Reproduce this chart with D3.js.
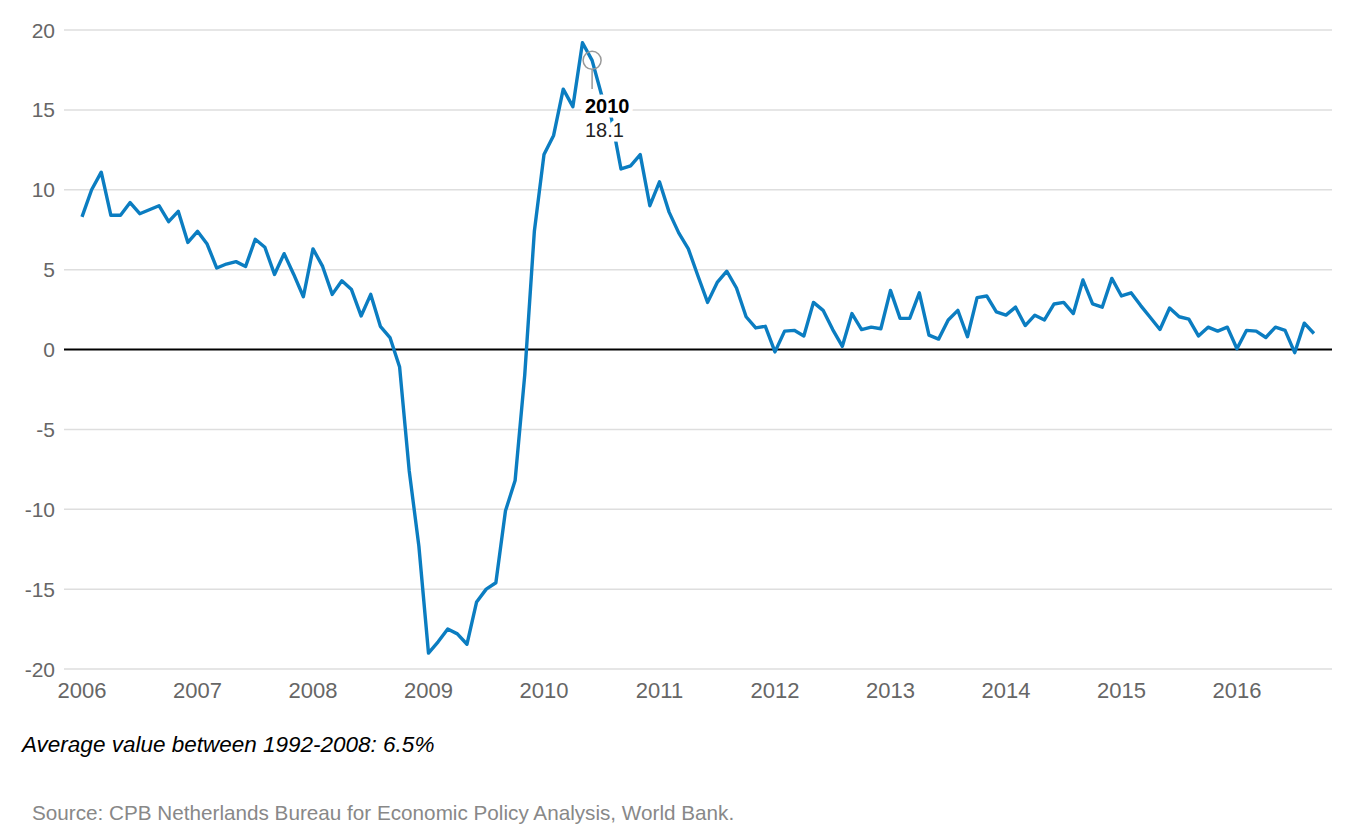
<!DOCTYPE html>
<html>
<head>
<meta charset="utf-8">
<script src="https://cdn.jsdelivr.net/npm/d3@7"></script>
<style>
  html, body { margin: 0; padding: 0; background: #fff; }
  svg { display: block; font-family: "Liberation Sans", Arial, sans-serif; }
</style>
</head>
<body>
<svg id="chart" width="1366" height="834"></svg>
<script>
// ---- data ----
const startYear = 2006;           // first observation: January 2006, monthly
const yearTicks = [2006, 2007, 2008, 2009, 2010, 2011, 2012, 2013, 2014, 2015, 2016];
const valueTicks = [20, 15, 10, 5, 0, -5, -10, -15, -20];
const values = [
  8.3, 10.0, 11.1, 8.4, 8.4, 9.2, 8.5, 8.75, 9.0, 8.0, 8.65, 6.7,        // 2006
  7.4, 6.6, 5.1, 5.35, 5.5, 5.2, 6.9, 6.4, 4.7, 6.0, 4.7, 3.3,           // 2007
  6.3, 5.2, 3.45, 4.3, 3.75, 2.1, 3.45, 1.45, 0.75, -1.1, -7.6, -12.3,    // 2008
  -19.0, -18.3, -17.5, -17.8, -18.45, -15.8, -15.0, -14.6, -10.1, -8.2, -1.6, 7.4, // 2009
  12.2, 13.4, 16.3, 15.2, 19.2, 18.1, 15.9, 14.5, 11.3, 11.5, 12.2, 9.0,  // 2010
  10.5, 8.6, 7.3, 6.3, 4.6, 2.95, 4.2, 4.9, 3.85, 2.05, 1.35, 1.45,      // 2011
  -0.15, 1.15, 1.2, 0.85, 2.95, 2.45, 1.25, 0.2, 2.25, 1.25, 1.4, 1.3,   // 2012
  3.7, 1.95, 1.95, 3.55, 0.9, 0.65, 1.85, 2.45, 0.8, 3.25, 3.35, 2.35,   // 2013
  2.15, 2.65, 1.5, 2.15, 1.85, 2.85, 2.95, 2.25, 4.35, 2.85, 2.65, 4.45, // 2014
  3.35, 3.55, 2.75, 2.0, 1.25, 2.6, 2.05, 1.9, 0.85, 1.4, 1.15, 1.4,     // 2015
  0.05, 1.2, 1.15, 0.75, 1.4, 1.2, -0.2, 1.65, 1.0                       // 2016
];
const highlightIndex = 53;        // June 2010
const highlightLabel = "2010";
const caption = "Average value between 1992-2008: 6.5%";
const source = "Source: CPB Netherlands Bureau for Economic Policy Analysis, World Bank.";

// ---- chart ----
const svg = d3.select("#chart");
const series = values.map((v, i) => ({ t: startYear + i / 12, v }));

const x = d3.scaleLinear().domain([2006, 2016.823]).range([82, 1332]);
const y = d3.scaleLinear().domain([-20, 20]).range([669, 30]);
const gridLeft = 64;

// gridlines + y labels
const yAxis = svg.append("g");
yAxis.selectAll("line").data(valueTicks).join("line")
  .attr("x1", gridLeft).attr("x2", x.range()[1])
  .attr("y1", d => y(d)).attr("y2", d => y(d))
  .attr("stroke", d => d === 0 ? "#000" : "#dedede")
  .attr("stroke-width", d => d === 0 ? 2 : 1.5);
yAxis.selectAll("text").data(valueTicks).join("text")
  .attr("x", 55).attr("y", d => y(d)).attr("dy", "0.36em")
  .attr("text-anchor", "end")
  .attr("font-size", 21).attr("fill", "#666")
  .text(d => d);

// x labels
svg.append("g").selectAll("text").data(yearTicks).join("text")
  .attr("x", d => x(d)).attr("y", 698)
  .attr("text-anchor", "middle")
  .attr("font-size", 22).attr("fill", "#666")
  .text(d => d);

// line
svg.append("path").datum(series)
  .attr("fill", "none").attr("stroke", "#0b7dc1").attr("stroke-width", 3.4)
  .attr("stroke-linejoin", "round")
  .attr("d", d3.line().x(d => x(d.t)).y(d => y(d.v)));

// highlight tooltip
const hp = series[highlightIndex];
const hx = x(hp.t), hy = y(hp.v);
svg.append("line").attr("x1", hx).attr("x2", hx).attr("y1", hy + 9).attr("y2", 89)
  .attr("stroke", "#999").attr("stroke-width", 1.5);
svg.append("circle").attr("cx", hx).attr("cy", hy).attr("r", 9)
  .attr("fill", "none").attr("stroke", "#999").attr("stroke-width", 1.5);
const tip = svg.append("g").attr("font-size", 20)
  .attr("stroke", "#fff").attr("stroke-width", 9).attr("paint-order", "stroke")
  .attr("stroke-linejoin", "round");
tip.append("text").attr("x", 585).attr("y", 113).attr("font-weight", "bold")
  .attr("fill", "#000").text(highlightLabel);
tip.append("text").attr("x", 585).attr("y", 137).attr("fill", "#222")
  .text(hp.v.toFixed(1));

// caption & source
svg.append("text").attr("x", 22).attr("y", 752).attr("font-size", 22.5)
  .attr("font-style", "italic").attr("fill", "#000").text(caption);
svg.append("text").attr("x", 32).attr("y", 820).attr("font-size", 20.7)
  .attr("fill", "#888").text(source);
</script>
</body>
</html>
